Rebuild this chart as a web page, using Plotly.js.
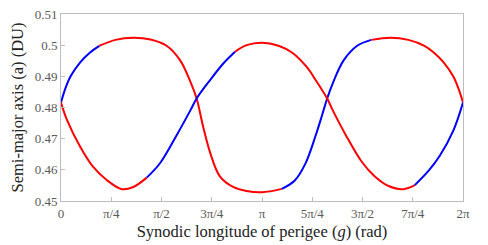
<!DOCTYPE html>
<html>
<head>
<meta charset="utf-8">
<script src="https://cdn.plot.ly/plotly-3.0.1.min.js"></script>
<style>html,body{margin:0;padding:0;background:#fff;}#chart{width:488px;height:245px;}</style>
</head>
<body>
<div id="chart"></div>
<script>
// Curve A (starts rising from g=0)
const gA = [0, 0.07, 0.15, 0.3, 0.45, 0.6, 0.85, 1.13, 1.40, 1.65, 1.86, 2.02, 2.12, 2.22, 2.33, 2.48, 2.69, 2.90, 3.1416,
            3.45, 3.65, 3.82, 3.98, 4.08, 4.16, 4.26, 4.42, 4.63, 4.85, 5.15, 5.43, 5.68, 5.83, 5.98, 6.13, 6.21, 6.2832];
const aA = [0.4816, 0.4862, 0.4900, 0.4945, 0.4976, 0.4998, 0.5017, 0.5024, 0.5018, 0.4998, 0.4952, 0.4884, 0.4829, 0.4740, 0.4656, 0.4580, 0.4545, 0.4532, 0.4528,
            0.4539, 0.4565, 0.4620, 0.4710, 0.4775, 0.4829, 0.4884, 0.4952, 0.4998, 0.5017, 0.5024, 0.5017, 0.4998, 0.4976, 0.4945, 0.4900, 0.4862, 0.4816];
const breaksA = [0.6, 3.45, 4.85];
const coloursA = ['blue', 'red', 'blue', 'red'];

// Curve B (starts falling from g=0)
const gB = [0, 0.09, 0.3, 0.5, 0.71, 0.95, 1.13, 1.34, 1.55, 1.81, 2.02, 2.12, 2.33, 2.54, 2.72, 2.90, 3.1416,
            3.40, 3.62, 3.84, 3.99, 4.16, 4.25, 4.45, 4.70, 4.91, 5.12, 5.35, 5.53, 5.75, 5.92, 6.13, 6.2832];
const aB = [0.4816, 0.4762, 0.4674, 0.4610, 0.4568, 0.4538, 0.4545, 0.4575, 0.4622, 0.4712, 0.4790, 0.4829, 0.4888, 0.4942, 0.4979, 0.5000, 0.5008,
            0.4998, 0.4975, 0.4930, 0.4885, 0.4829, 0.4790, 0.4712, 0.4626, 0.4578, 0.4548, 0.4538, 0.4551, 0.4598, 0.4645, 0.4725, 0.4816];
const breaksB = [1.34, 2.72, 5.53];
const coloursB = ['red', 'blue', 'red', 'blue'];

const xTickVals = [0, Math.PI/4, Math.PI/2, 3*Math.PI/4, Math.PI, 5*Math.PI/4, 3*Math.PI/2, 7*Math.PI/4, 2*Math.PI];
const xTickText = ['0', 'π/4', 'π/2', '3π/4', 'π', '5π/4', '3π/2', '7π/4', '2π'];
const yTickVals = [0.45, 0.46, 0.47, 0.48, 0.49, 0.50, 0.51];
const yTickText = ['0.45', '0.46', '0.47', '0.48', '0.49', '0.5', '0.51'];

const colourMap = {blue: '#0000ff', red: '#ff0000'};

function segments(g, a, breaks, colours) {
  const out = [];
  let start = 0;
  const cuts = breaks.map(b => g.indexOf(b)).concat([g.length - 1]);
  cuts.forEach((end, k) => {
    out.push({
      x: g.slice(start, end + 1), y: a.slice(start, end + 1),
      type: 'scatter', mode: 'lines',
      line: {color: colourMap[colours[k]], width: 2, shape: 'spline', smoothing: 1},
      hoverinfo: 'skip', showlegend: false
    });
    start = end;
  });
  return out;
}

const data = segments(gA, aA, breaksA, coloursA).concat(segments(gB, aB, breaksB, coloursB));

const axisCommon = {
  showline: true, linecolor: '#bdbdbd', linewidth: 1, mirror: true,
  ticks: 'inside', ticklen: 4, tickcolor: '#bdbdbd', showgrid: false, zeroline: false,
  tickfont: {family: 'Liberation Serif, serif', size: 13, color: '#5a5a5a'}
};

const layout = {
  width: 488, height: 245,
  margin: {l: 61, r: 25, t: 14, b: 44},
  paper_bgcolor: '#ffffff', plot_bgcolor: '#ffffff',
  xaxis: Object.assign({}, axisCommon, {
    range: [0, 2*Math.PI], tickvals: xTickVals, ticktext: xTickText, tickmode: 'array',
    title: {text: 'Synodic longitude of perigee (<i>g</i>) (rad)', font: {family: 'Liberation Serif, serif', size: 16.5, color: '#222'}, standoff: 5}
  }),
  yaxis: Object.assign({}, axisCommon, {
    range: [0.45, 0.51], tickvals: yTickVals, ticktext: yTickText, tickmode: 'array',
    title: {text: 'Semi-major axis (a) (DU)', font: {family: 'Liberation Serif, serif', size: 16.5, color: '#222'}, standoff: 6}
  })
};

Plotly.newPlot('chart', data, layout, {staticPlot: true, displayModeBar: false});
</script>
</body>
</html>
